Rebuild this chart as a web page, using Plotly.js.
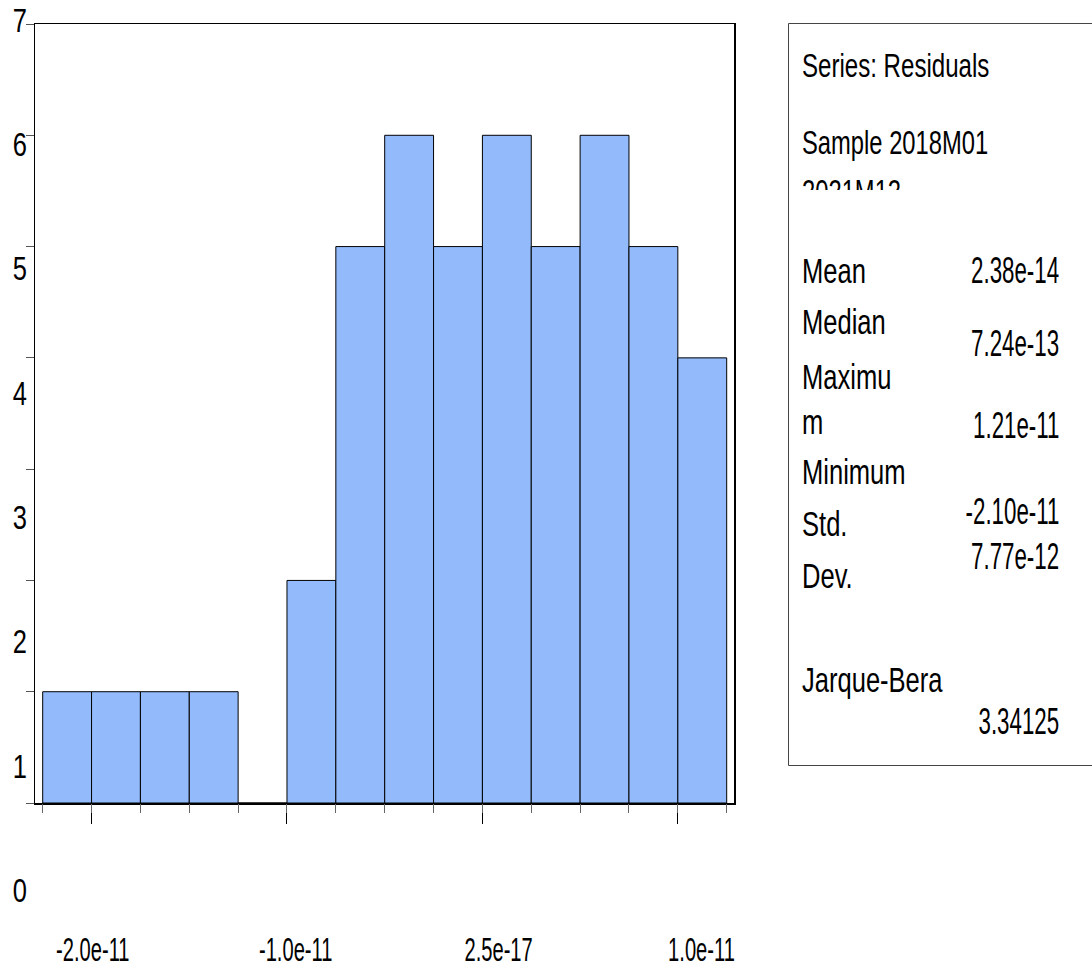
<!DOCTYPE html>
<html>
<head>
<meta charset="utf-8">
<script src="https://cdn.plot.ly/plotly-3.0.1.min.js"></script>
<style>html,body{margin:0;padding:0;background:#fff;}</style>
</head>
<body>
<div id="chart" style="width:1092px;height:968px"></div>
<script>
// ---------- data ----------
const binStart = -2.25e-11;
const binWidth = 2.5e-12;
const counts = [1, 1, 1, 1, 0, 2, 5, 6, 5, 6, 5, 6, 5, 4];
const yTickVals = [0, 1, 2, 3, 4, 5, 6, 7];
const yTickText = ['0', '1', '2', '3', '4', '5', '6', '7'];
const xTickVals = [-2e-11, -1e-11, 2.5e-17, 1e-11];
const xTickText = ['-2.0e-11', '-1.0e-11', '2.5e-17', '1.0e-11'];
const headerLines = ['Series: Residuals', 'Sample 2018M01', '2021M12'];
const statNames = ['Mean', 'Median', 'Maximu', 'm', 'Minimum', 'Std.', 'Dev.', 'Jarque-Bera'];
const statValues = ['2.38e-14', '7.24e-13', '1.21e-11', '-2.10e-11', '7.77e-12', '3.34125'];

const binCenters = counts.map((_, i) => binStart + (i + 0.5) * binWidth);
const binEdges = counts.map((_, i) => binStart + i * binWidth).concat([binStart + counts.length * binWidth]);

// ---------- geometry (pixels) ----------
const W = 1092, H = 968;
const fx = p => p / W;
const fy = p => 1 - p / H;
const FONT = 'Liberation Sans, Arial, sans-serif';

const headerY = [66, 143];
const nameY = [270, 321, 376, 422, 472, 523, 575, 679];
const valueY = [270, 344, 425, 511, 556, 721];

const annotations = [];
const squeeze = [];
function addText(text, xpx, ypx, size, anchor, sx, extra) {
  annotations.push(Object.assign({
    text: text, xref: 'paper', yref: 'paper', x: fx(xpx), y: fy(ypx),
    xanchor: anchor, yanchor: 'middle', align: anchor, showarrow: false,
    borderpad: 0, font: {family: FONT, size: size, color: '#000'}
  }, extra || {}));
  squeeze.push({sx: sx, origin: anchor});
}
addText(headerLines[0], 801, headerY[0], 33, 'left', 0.73);
addText(headerLines[1], 801, headerY[1], 33, 'left', 0.72);
addText(headerLines[2], 801, 172, 33, 'left', 0.72, {yanchor: 'top', y: fy(172), height: 17, valign: 'top'});
statNames.forEach((t, i) => addText(t, 801, nameY[i], 35, 'left', 0.73));
statValues.forEach((t, i) => addText(t, 1060, valueY[i], 36, 'right', 0.62));

const xRange = [-2.2894e-11, 1.2874e-11];

const data = [
  {
    type: 'bar', x: binCenters, y: counts, width: binWidth,
    marker: {color: '#93bbfc', line: {color: '#000', width: 1}},
    hoverinfo: 'skip', showlegend: false
  },
  {type: 'scatter', x: [], y: [], xaxis: 'x3', yaxis: 'y', showlegend: false, hoverinfo: 'skip'},
  {type: 'scatter', x: [], y: [], xaxis: 'x2', yaxis: 'y2', showlegend: false, hoverinfo: 'skip'}
];

// label axes positions
const xLab0 = 498.6, xLabStep = 202.9;   // px of value 0, px per 1e-11
const yLab0 = 890, yLabStep = 124.29;    // px of value 0, px per unit
const x2L = 28, x2R = 734, y2B = 927, y2T = 10;

const layout = {
  width: W, height: H,
  margin: {l: 0, r: 0, t: 0, b: 0, pad: 0},
  paper_bgcolor: '#fff', plot_bgcolor: 'rgba(0,0,0,0)',
  showlegend: false,
  font: {family: FONT, color: '#000'},
  xaxis: {
    domain: [fx(35), fx(734)], range: xRange, anchor: 'y',
    showline: true, mirror: true, linecolor: '#000', linewidth: 1.5,
    ticks: 'outside', tickmode: 'linear', tick0: 0, dtick: 1e-11, ticklen: 19,
    tickcolor: '#000', tickwidth: 1, showticklabels: false,
    showgrid: false, zeroline: false, fixedrange: true
  },
  xaxis3: {
    overlaying: 'x', anchor: 'y', range: xRange, side: 'bottom',
    showline: false, ticks: 'outside', tickmode: 'array', tickvals: binEdges,
    ticklen: 9, tickcolor: '#666', tickwidth: 1, showticklabels: false,
    showgrid: false, zeroline: false, fixedrange: true
  },
  yaxis: {
    domain: [fy(803), fy(24)], range: [0, 7], anchor: 'x',
    showline: true, mirror: true, linecolor: '#000', linewidth: 1.5,
    ticks: 'outside', tickmode: 'array', tickvals: yTickVals, ticklen: 8,
    tickcolor: '#555', tickwidth: 1, showticklabels: false,
    showgrid: false, zeroline: false, fixedrange: true
  },
  xaxis2: {
    domain: [fx(x2L), fx(x2R)],
    range: [(x2L - xLab0) / xLabStep * 1e-11, (x2R - xLab0) / xLabStep * 1e-11],
    anchor: 'y2', showline: false, showgrid: false, zeroline: false, ticks: '',
    tickmode: 'array', tickvals: xTickVals, ticktext: xTickText,
    tickfont: {family: FONT, size: 33, color: '#000'}, fixedrange: true
  },
  yaxis2: {
    domain: [fy(y2B), fy(y2T)],
    range: [(yLab0 - y2B) / yLabStep, (yLab0 - y2T) / yLabStep],
    anchor: 'x2', showline: false, showgrid: false, zeroline: false, ticks: '',
    tickmode: 'array', tickvals: yTickVals, ticktext: yTickText,
    tickfont: {family: FONT, size: 34, color: '#000'}, fixedrange: true
  },
  shapes: [{
    type: 'rect', xref: 'paper', yref: 'paper',
    x0: fx(788.5), x1: 1.05, y0: fy(765.5), y1: fy(23.5),
    line: {color: '#444', width: 1}, fillcolor: 'rgba(0,0,0,0)', layer: 'below'
  }],
  annotations: annotations
};

function squeezeText(el, sx, origin) {
  const bb = el.getBBox();
  const ox = origin === 'left' ? bb.x : origin === 'right' ? bb.x + bb.width : bb.x + bb.width / 2;
  const prev = el.getAttribute('transform') || '';
  el.setAttribute('transform', prev + ' translate(' + ox + ' 0) scale(' + sx + ' 1) translate(' + (-ox) + ' 0)');
}

Plotly.newPlot('chart', data, layout, {staticPlot: true, displayModeBar: false}).then(function (gd) {
  gd.querySelectorAll('.annotation').forEach(function (g) {
    const idx = +g.getAttribute('data-index');
    const t = g.querySelector('text.annotation-text');
    if (t && squeeze[idx]) squeezeText(t, squeeze[idx].sx, squeeze[idx].origin);
  });
  gd.querySelectorAll('.x2tick text').forEach(function (t) { squeezeText(t, 0.61, 'middle'); });
  gd.querySelectorAll('.y2tick text').forEach(function (t) { squeezeText(t, 0.75, 'right'); });
});
</script>
</body>
</html>
